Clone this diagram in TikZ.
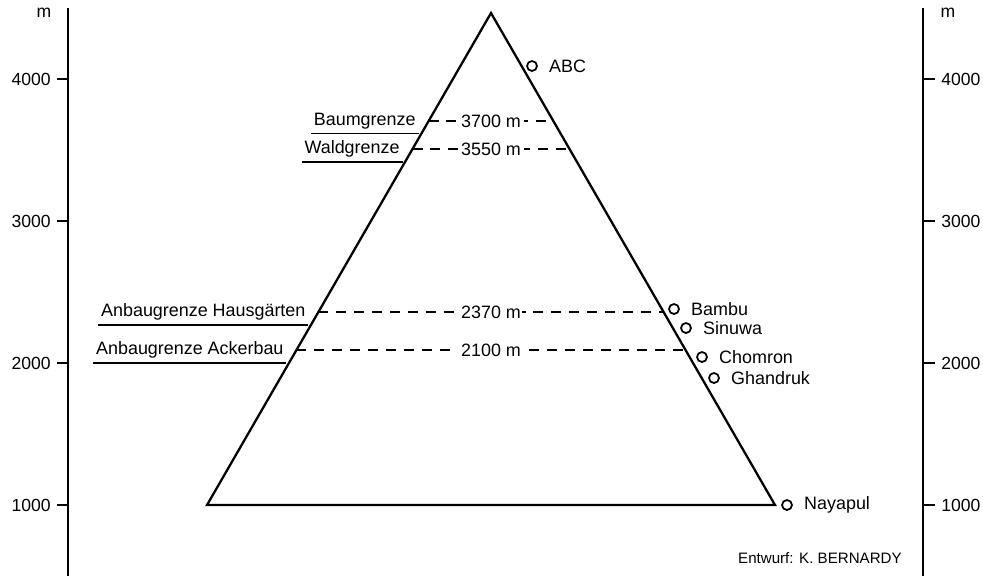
\documentclass[tikz,border=0pt]{standalone}
\usepackage{fontspec}
\setmainfont{Liberation Sans}
\usetikzlibrary{positioning,calc}
\newcommand{\grenze}[3]{\node[grenzlabel, left=0.2cm of #1] (#2) {#3};\draw[uline] (#2.south west) -- (#2.south east);}
\newcommand{\ort}[3]{\node[ortring] (#1) at (#2) {};\node[ortlabel, right=0.22cm of #1] (#1-l) {#3};}
\tikzset{tri/.style={line width=1.3pt, line join=miter},
  axisline/.style={line width=1.1pt},
  limitline/.style={dashed, line width=1.2pt, dash pattern=on 5.7pt off 4.5pt},
  lvl/.style={fill=white, inner sep=2pt, font=\fontsize{10.2}{12}\selectfont},
  grenzlabel/.style={inner xsep=1.5pt, inner ysep=2.2pt, font=\fontsize{10.2}{12}\selectfont},
  uline/.style={line width=1.1pt},
  ortring/.style={circle, draw, line width=1pt, minimum size=0.2cm, inner sep=0pt},
  ortlabel/.style={inner sep=0pt, font=\fontsize{10.2}{12}\selectfont},
  ticklabel/.style={inner sep=3pt, font=\fontsize{10}{12}\selectfont}}

\begin{document}
\begin{tikzpicture}[x=0.02cm, y=-0.02cm]
\useasboundingbox (0,0) rectangle (983,576);
% axes
\coordinate (laxtop) at (68,8);
\coordinate (laxbot) at (68,576);
\coordinate (raxtop) at (923,8);
\coordinate (raxbot) at (923,576);
\draw[axisline] (laxtop) -- (laxbot);
\draw[axisline] (raxtop) -- (raxbot);
\node[ticklabel] (lunit) at (44,13) {m};
\node[ticklabel] (runit) at (948,13) {m};
\foreach \h/\y in {1000/505, 2000/363, 3000/221, 4000/79}{
  \coordinate (lt-\h) at (68,\y);
  \coordinate (rt-\h) at (923,\y);
  \draw[axisline] (lt-\h) -- ++(-11,0) node[ticklabel, left] (ll-\h) {\h};
  \draw[axisline] (rt-\h) -- ++(12,0) node[ticklabel, right] (rl-\h) {\h};
}
% pyramid
\coordinate (top) at (491,13);
\coordinate (bl) at (207,505);
\coordinate (br) at (775,505);
\draw[tri] (bl) -- (top) -- (br) -- cycle;
% limits
\coordinate (baum-l) at ($(bl)!0.780!(top)$);
\coordinate (baum-r) at ($(br)!0.780!(top)$);
\coordinate (wald-l) at ($(bl)!0.7236!(top)$);
\coordinate (wald-r) at ($(br)!0.7236!(top)$);
\coordinate (haus-l) at ($(bl)!0.3923!(top)$);
\coordinate (haus-r) at ($(br)!0.3923!(top)$);
\coordinate (acker-l) at ($(bl)!0.315!(top)$);
\coordinate (acker-r) at ($(br)!0.315!(top)$);
\draw[limitline] (baum-l) -- node[lvl] (baum-h) {3700 m} (baum-r);
\draw[limitline] (wald-l) -- node[lvl] (wald-h) {3550 m} (wald-r);
\draw[limitline] (haus-l) -- node[lvl, inner xsep=0.5pt] (haus-h) {2370 m} (haus-r);
\draw[limitline] (acker-l) -- node[lvl] (acker-h) {2100 m} (acker-r);
\grenze{baum-l}{baum}{Baumgrenze}
\grenze{wald-l}{wald}{Waldgrenze}
\grenze{haus-l}{haus}{Anbaugrenze Hausgärten}
\grenze{acker-l}{acker}{Anbaugrenze Ackerbau}
% places
\ort{abc}{532,66}{ABC}
\ort{bambu}{674,309}{Bambu}
\ort{sinuwa}{686,328}{Sinuwa}
\ort{chomron}{702,357}{Chomron}
\ort{ghandruk}{714,378}{Ghandruk}
\ort{nayapul}{787,505}{Nayapul}
\node[anchor=east, inner sep=0pt, font=\fontsize{8.6}{10}\selectfont] (entwurf) at (902,558) {Entwurf: K. BERNARDY};
\end{tikzpicture}
\end{document}
